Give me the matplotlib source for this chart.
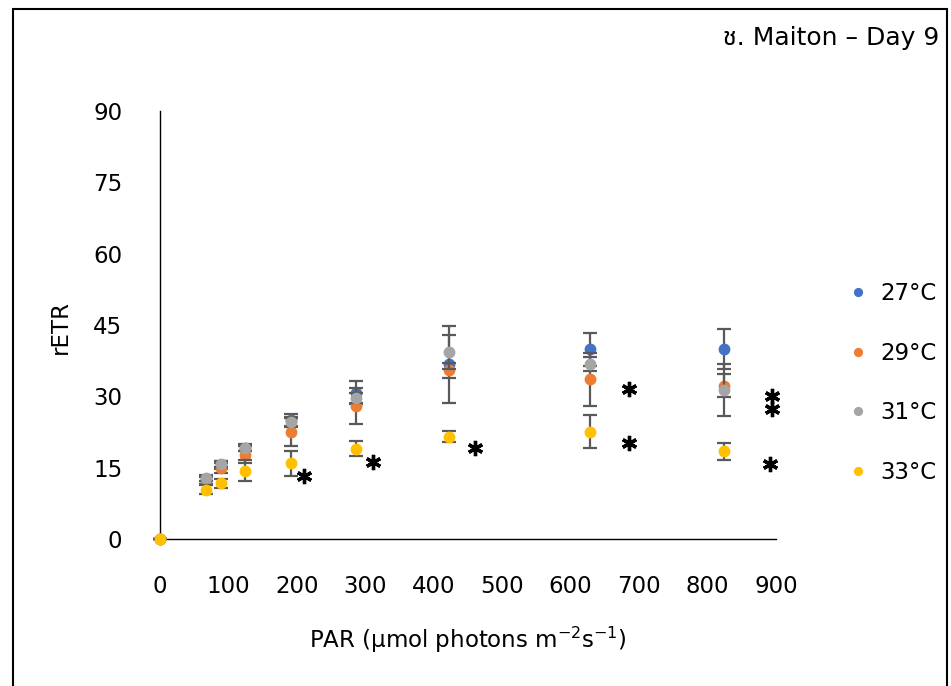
import matplotlib
matplotlib.use('Agg')
import matplotlib.pyplot as plt
from matplotlib.patches import Rectangle

plt.rcParams['font.family'] = ['DejaVu Sans', 'Noto Sans']

# PAR levels and rETR means / error bars per temperature
par = [0, 67, 90, 125, 191, 287, 422, 628, 824]
labels = ['27°C', '29°C', '31°C', '33°C']
colors = ['#4472C4', '#ED7D31', '#A5A5A5', '#FFC000']

retr_27 = [0, 12.3, 15.6, 19.2, 25.0, 30.8, 36.7, 39.9, 39.9]
err_27 = [0, 0.8, 0.8, 0.7, 1.2, 2.4, 8.0, 3.5, 4.2]
retr_29 = [0, 12.3, 14.9, 17.7, 22.6, 28.0, 35.5, 33.6, 32.2]
err_29 = [0, 0.8, 1.1, 1.8, 3.0, 3.8, 1.6, 5.6, 2.4]
retr_31 = [0, 12.8, 15.7, 19.1, 24.5, 29.7, 39.3, 36.8, 31.3]
err_31 = [0, 0.6, 0.6, 0.6, 1.0, 1.0, 3.5, 1.5, 5.4]
retr_33 = [0, 10.4, 11.7, 14.4, 15.9, 19.0, 21.5, 22.6, 18.4]
err_33 = [0, 1.0, 1.0, 2.2, 2.6, 1.6, 1.2, 3.5, 1.8]

# significance asterisks
star_x = [210, 312, 460, 685, 685, 894, 894, 891]
star_y = [13.3, 16.1, 19.1, 31.5, 20.1, 30.1, 27.3, 15.7]

yticks = [0, 15, 30, 45, 60, 75, 90]
xticks = [0, 100, 200, 300, 400, 500, 600, 700, 800, 900]

fig = plt.figure(figsize=(9.51, 6.86), dpi=100)
ax = fig.add_axes([0.168, 0.2143, 0.648, 0.6239])

series = [retr_27, retr_29, retr_31, retr_33]
errs = [err_27, err_29, err_31, err_33]
for i in range(len(series)):
    ax.errorbar(par, series[i], yerr=errs[i], fmt='o', color=colors[i],
                ms=7.5, ecolor='#595959', elinewidth=1.6, capsize=5,
                capthick=1.6, label=labels[i], clip_on=False, zorder=3 + i)

ax.plot(star_x, star_y, linestyle='none', marker=(6, 2, 0), color='k',
        ms=11, mew=2.4, clip_on=False, zorder=10)

ax.set_xlim(0, 900)
ax.set_ylim(0, 90)
ax.set_xticks(xticks)
ax.set_yticks(yticks)
for s in ['top', 'right']:
    ax.spines[s].set_visible(False)
ax.spines['left'].set_linewidth(1.0)
ax.spines['bottom'].set_linewidth(1.0)
ax.tick_params(length=0, labelsize=16.5, pad=26)
ax.tick_params(axis='y', pad=27)

fig.text(0.064, 0.523, 'rETR', rotation=90, ha='center', va='center', fontsize=16.5)
fig.text(0.492, 0.067, 'PAR (μmol photons m$^{-2}$s$^{-1}$)', ha='center',
         va='center', fontsize=16.5)
fig.text(0.988, 0.945, 'ช. Maiton – Day 9', ha='right', va='center',
         fontsize=18, family=['DejaVu Sans', 'Noto Sans Thai', 'Noto Sans'])

handles, labs = ax.get_legend_handles_labels()
handles = [h[0] for h in handles]
leg = fig.legend(handles, labs, loc='center left', bbox_to_anchor=(0.88, 0.4417),
                 frameon=False, fontsize=16.5, markerscale=0.75, handlelength=0.8,
                 handletextpad=0.6, labelspacing=1.6, borderpad=0)

fig.add_artist(Rectangle((13 / 951, -0.05), 934 / 951, 1.05 - 9 / 686,
                         transform=fig.transFigure, fill=False, edgecolor='k',
                         linewidth=1.5))

fig.savefig('out.png', dpi=100)
